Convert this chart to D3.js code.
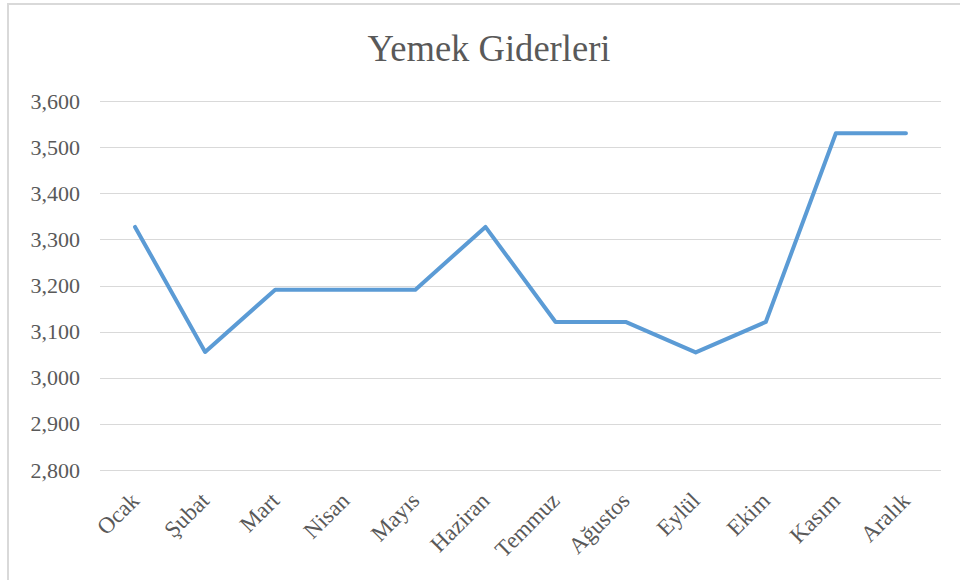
<!DOCTYPE html>
<meta charset="utf-8">
<style>
body { margin: 0; background: #fff; }
.grid line { stroke: #d9d9d9; stroke-width: 1; }
.axis text { fill: #595959; font-family: "Liberation Serif", "Times New Roman", serif; }
.title { fill: #595959; font-family: "Liberation Serif", "Times New Roman", serif; font-size: 37px; }
</style>
<svg width="960" height="580"></svg>
<script src="https://d3js.org/d3.v7.min.js"></script>
<script>
var months = ["Ocak", "Şubat", "Mart", "Nisan", "Mayıs", "Haziran", "Temmuz", "Ağustos", "Eylül", "Ekim", "Kasım", "Aralık"];
var values = [3327, 3056, 3191, 3191, 3191, 3327, 3121, 3121, 3055, 3121, 3530, 3530];
var yTicks = [2800, 2900, 3000, 3100, 3200, 3300, 3400, 3500, 3600];

var svg = d3.select("svg");

// chart frame (right and bottom edges are cut off in the picture)
svg.append("rect")
    .attr("x", 8).attr("y", 4)
    .attr("width", 990).attr("height", 600)
    .attr("fill", "none")
    .attr("stroke", "#d9d9d9")
    .attr("stroke-width", 2);

var x = d3.scalePoint()
    .domain(months)
    .range([100, 941])
    .padding(0.5);

var y = d3.scaleLinear()
    .domain([2800, 3600])
    .range([470, 101]);

svg.append("text")
    .attr("class", "title")
    .attr("x", 489)
    .attr("y", 61)
    .attr("text-anchor", "middle")
    .attr("textLength", 243)
    .attr("lengthAdjust", "spacingAndGlyphs")
    .text("Yemek Giderleri");

svg.append("g")
    .attr("class", "grid")
  .selectAll("line")
    .data(yTicks)
  .enter().append("line")
    .attr("x1", 100).attr("x2", 941)
    .attr("y1", function(d) { return Math.round(y(d)) + 0.5; })
    .attr("y2", function(d) { return Math.round(y(d)) + 0.5; });

var yAxis = svg.append("g")
    .attr("class", "axis")
    .attr("transform", "translate(100,0)")
    .call(d3.axisLeft(y).tickValues(yTicks).tickFormat(d3.format(",")).tickSize(0).tickPadding(20));
yAxis.select(".domain").remove();
yAxis.selectAll("text").style("font-size", "22px");

var xAxis = svg.append("g")
    .attr("class", "axis")
    .attr("transform", "translate(0,470)")
    .call(d3.axisBottom(x).tickSize(0));
xAxis.select(".domain").remove();
xAxis.selectAll("text")
    .style("font-size", "23px")
    .attr("text-anchor", "end")
    .attr("dy", null)
    .attr("y", 0)
    .attr("transform", "translate(5,32) rotate(-45)");

var line = d3.line()
    .x(function(d, i) { return x(months[i]); })
    .y(function(d) { return y(d); });

svg.append("path")
    .datum(values)
    .attr("fill", "none")
    .attr("stroke", "#5b9bd5")
    .attr("stroke-width", 4)
    .attr("stroke-linejoin", "round")
    .attr("stroke-linecap", "round")
    .attr("d", line);
</script>
